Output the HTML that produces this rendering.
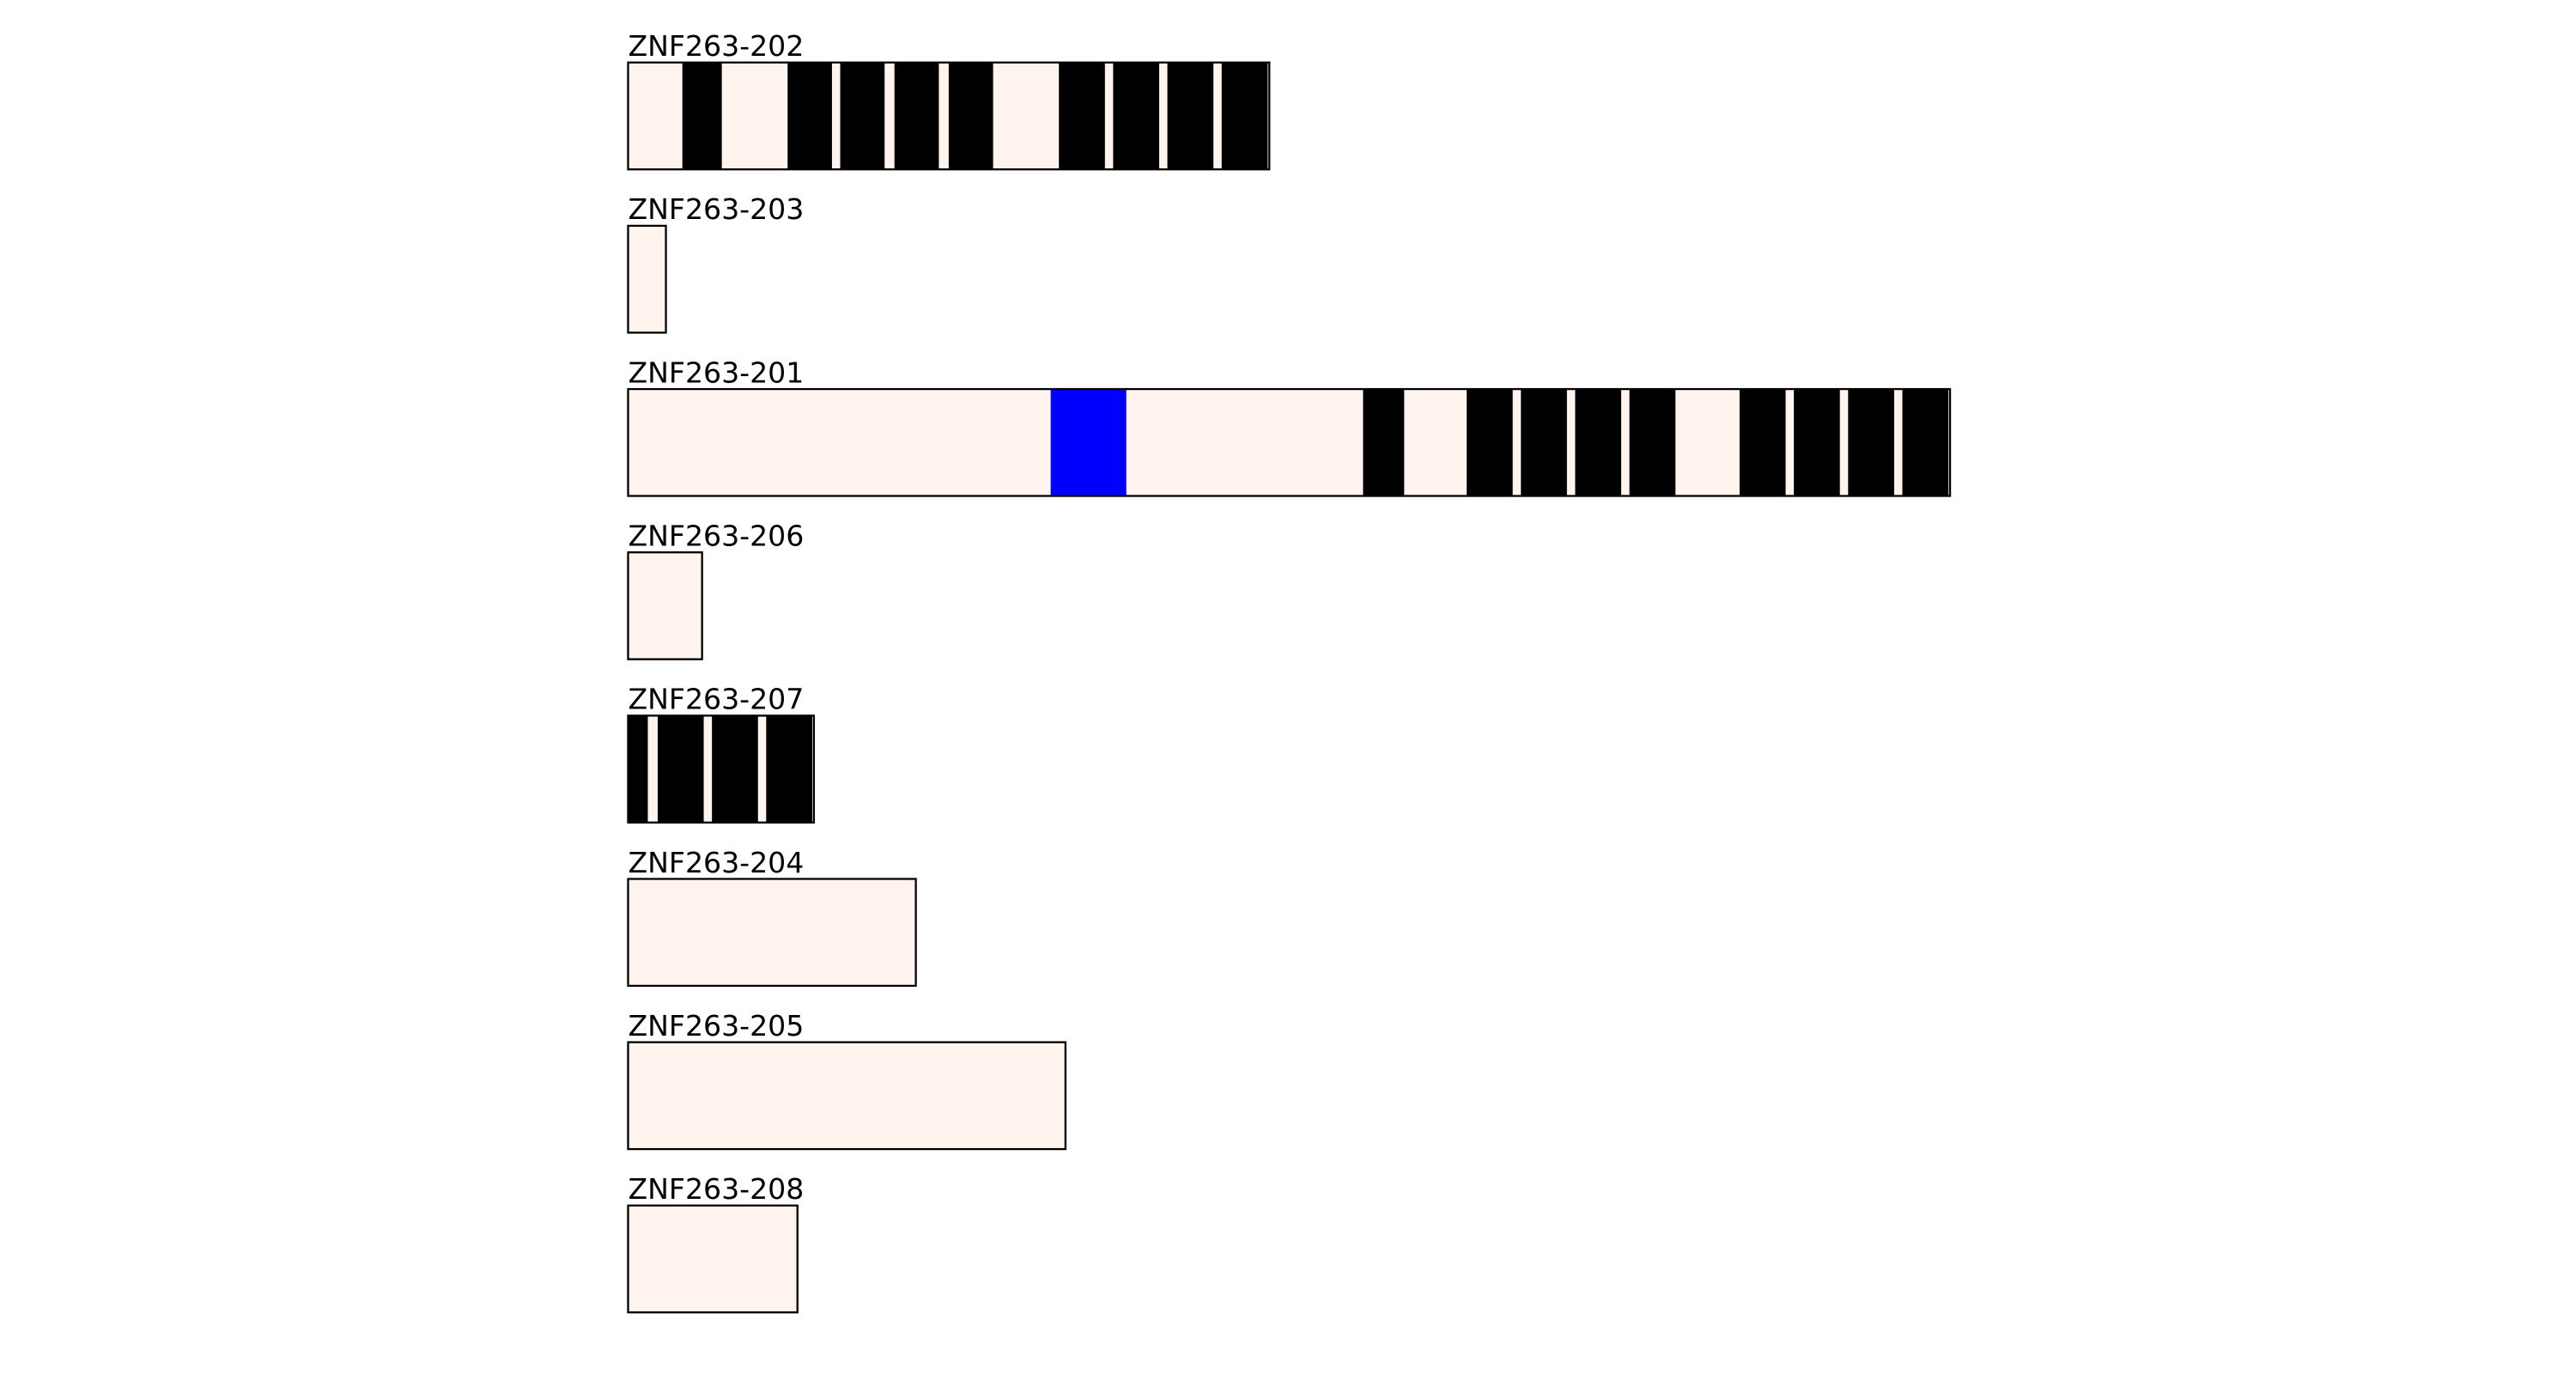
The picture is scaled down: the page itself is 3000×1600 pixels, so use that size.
<!DOCTYPE html>
<html><head><meta charset="utf-8"><style>html,body{margin:0;padding:0;background:#fff}svg{display:block}</style></head>
<body>
<svg width="3000" height="1600" viewBox="0 0 1566.7 835.57" xmlns="http://www.w3.org/2000/svg" font-family="DejaVu Sans, sans-serif" font-size="17.3">
<g fill="#000">
<text x="382" y="34">ZNF263-202</text>
<text x="382" y="133.3">ZNF263-203</text>
<text x="382" y="232.6">ZNF263-201</text>
<text x="382" y="331.9">ZNF263-206</text>
<text x="382" y="431.2">ZNF263-207</text>
<text x="382" y="530.5">ZNF263-204</text>
<text x="382" y="629.8">ZNF263-205</text>
<text x="382" y="729.1">ZNF263-208</text>
</g>
<g transform="translate(0,38)">
<rect x="382" y="0" width="390" height="65" fill="#fff4ee"/>
<g fill="#000">
<rect x="415" y="0" width="24" height="65"/>
<rect x="479" y="0" width="27" height="65"/>
<rect x="511" y="0" width="27" height="65"/>
<rect x="544" y="0" width="27" height="65"/>
<rect x="577" y="0" width="27" height="65"/>
<rect x="644" y="0" width="28" height="65"/>
<rect x="677" y="0" width="28" height="65"/>
<rect x="710" y="0" width="28" height="65"/>
<rect x="743" y="0" width="28" height="65"/>
</g>
<rect x="382" y="0" width="390" height="65" fill="none" stroke="#000" stroke-width="1.2"/>
</g>
<rect x="382" y="137.3" width="23" height="65" fill="#fff4ee" stroke="#000" stroke-width="1.2"/>
<g transform="translate(0,236.6)">
<rect x="382" y="0" width="804" height="65" fill="#fff4ee"/>
<rect x="639" y="0" width="46" height="65" fill="#0000ff"/>
<g fill="#000">
<rect x="829" y="0" width="25" height="65"/>
<rect x="892" y="0" width="28" height="65"/>
<rect x="925" y="0" width="28" height="65"/>
<rect x="958" y="0" width="28" height="65"/>
<rect x="991" y="0" width="28" height="65"/>
<rect x="1058" y="0" width="28" height="65"/>
<rect x="1091" y="0" width="28" height="65"/>
<rect x="1124" y="0" width="28" height="65"/>
<rect x="1157" y="0" width="28" height="65"/>
</g>
<rect x="382" y="0" width="804" height="65" fill="none" stroke="#000" stroke-width="1.2"/>
</g>
<rect x="382" y="335.9" width="45" height="65" fill="#fff4ee" stroke="#000" stroke-width="1.2"/>
<g transform="translate(0,435.2)">
<rect x="382" y="0" width="113" height="65" fill="#fff4ee"/>
<g fill="#000">
<rect x="382" y="0" width="12" height="65"/>
<rect x="400" y="0" width="28" height="65"/>
<rect x="433" y="0" width="28" height="65"/>
<rect x="466" y="0" width="28" height="65"/>
</g>
<rect x="382" y="0" width="113" height="65" fill="none" stroke="#000" stroke-width="1.2"/>
</g>
<rect x="382" y="534.5" width="175" height="65" fill="#fff4ee" stroke="#000" stroke-width="1.2"/>
<rect x="382" y="633.8" width="266" height="65" fill="#fff4ee" stroke="#000" stroke-width="1.2"/>
<rect x="382" y="733.1" width="103" height="65" fill="#fff4ee" stroke="#000" stroke-width="1.2"/>
</svg>
</body></html>
